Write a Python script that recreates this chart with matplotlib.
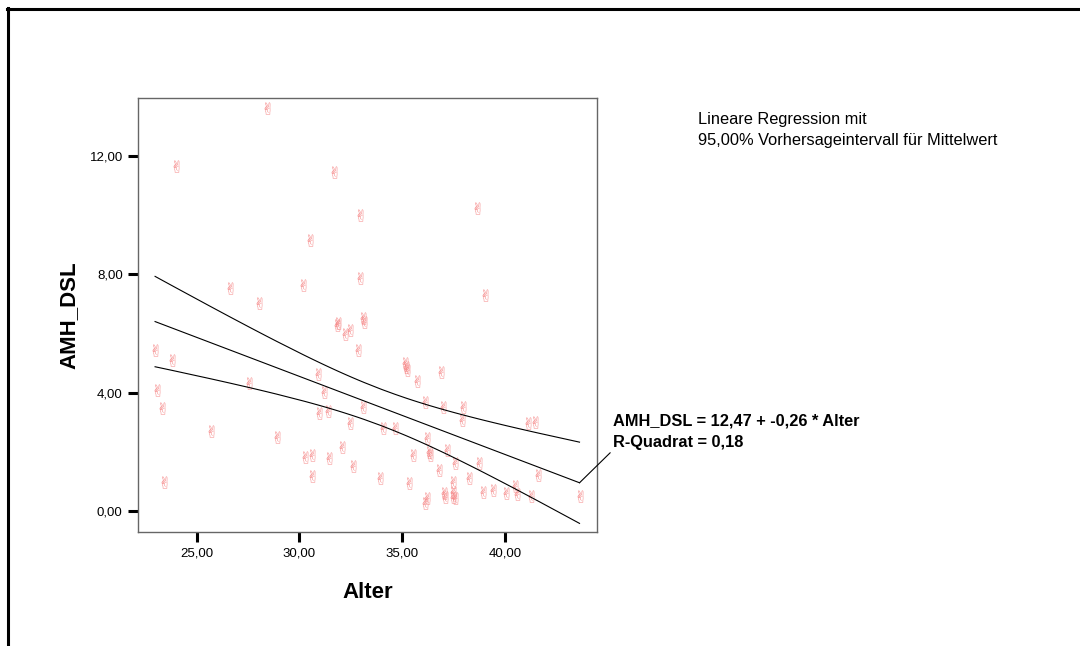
import numpy as np
import matplotlib.pyplot as plt
from matplotlib.lines import Line2D

plt.rcParams['font.family'] = ['Liberation Sans', 'DejaVu Sans']

# Alter (x) and AMH_DSL (y)
alter = [28.41, 24.00, 31.68, 32.95, 30.52, 30.19, 32.95, 26.62, 28.04, 31.86,
         38.62, 39.03, 33.11, 33.16, 31.84, 32.22, 32.46, 32.84, 22.98, 23.79,
         27.56, 30.89, 31.21, 23.06, 23.30, 30.97, 31.38, 32.46, 25.70, 28.90,
         32.06, 30.27, 30.60, 31.46, 32.59, 30.60, 23.43, 35.14, 35.19, 35.25,
         36.89, 35.74, 33.08, 36.11, 36.97, 37.97, 37.89, 41.13, 41.46, 34.08,
         34.65, 36.19, 35.51, 36.31, 36.35, 37.19, 37.57, 38.75, 36.80, 38.26,
         33.92, 35.34, 41.62, 37.45, 37.03, 37.08, 37.45, 37.48, 37.57, 38.91,
         39.43, 40.05, 40.49, 40.60, 41.25, 43.62, 36.19, 36.11]
amh_dsl = [13.61, 11.66, 11.45, 10.00, 9.16, 7.64, 7.87, 7.53, 7.02, 6.35,
           10.23, 7.30, 6.51, 6.40, 6.29, 5.98, 6.12, 5.44, 5.44, 5.10,
           4.34, 4.63, 4.03, 4.09, 3.47, 3.32, 3.39, 2.96, 2.72, 2.51,
           2.17, 1.84, 1.89, 1.80, 1.53, 1.19, 0.99, 4.99, 4.88, 4.77,
           4.71, 4.41, 3.51, 3.70, 3.53, 3.53, 3.08, 2.96, 3.01, 2.80,
           2.80, 2.46, 1.89, 2.00, 1.89, 2.06, 1.61, 1.61, 1.39, 1.11,
           1.13, 0.94, 1.22, 0.99, 0.60, 0.48, 0.65, 0.48, 0.43, 0.65,
           0.71, 0.62, 0.86, 0.57, 0.52, 0.52, 0.43, 0.28]

# fitted line as drawn in the chart (label: 12,47 + -0,26 * Alter)
fit_intercept = 12.47
fit_slope = -0.264

x_ticks = [25, 30, 35, 40]
y_ticks = [0, 4, 8, 12]

x = np.array(alter)
y = np.array(amh_dsl)

# 95% confidence band for the mean around the fitted line
n = len(x)
b, a = np.polyfit(x, y, 1)
s = np.sqrt(np.sum((y - (a + b * x)) ** 2) / (n - 2))
sxx = np.sum((x - x.mean()) ** 2)
xs = np.unique(x)
fit = fit_intercept + fit_slope * xs
half = 1.99 * s * np.sqrt(1.0 / n + (xs - x.mean()) ** 2 / sxx)

fig = plt.figure(figsize=(10.8, 6.46), dpi=100)
ax = fig.add_axes([138 / 1080, 1 - 532 / 646, 459 / 1080, 434 / 646])

ax.scatter(x, y, marker='$\u270C$', s=75, color='#f58282', linewidths=0, zorder=2)
ax.plot(xs, fit, color='black', lw=0.8, zorder=3)
ax.plot(xs, fit + half, color='black', lw=0.8, zorder=3)
ax.plot(xs, fit - half, color='black', lw=0.8, zorder=3)

ax.set_xlim(22.15, 44.47)
ax.set_ylim(-0.71, 13.96)
ax.set_xticks(x_ticks)
ax.set_yticks(y_ticks)
ax.set_xticklabels([f'{t:.2f}'.replace('.', ',') for t in x_ticks], fontsize=9.5)
ax.set_yticklabels([f'{t:.2f}'.replace('.', ',') for t in y_ticks], fontsize=9.5)
ax.tick_params(direction='out', length=7, width=2.2, color='black', pad=4)
for sp in ax.spines.values():
    sp.set_color('#666666')
    sp.set_linewidth(1)

ax.set_xlabel('Alter', fontsize=16, fontweight='bold', labelpad=16)
ax.set_ylabel('AMH_DSL', fontsize=16, fontweight='bold', labelpad=7)

# legend-like note and equation label (baseline = last line)
fig.text(698 / 1080, 1 - 145 / 646, 'Lineare Regression mit\n95,00% Vorhersageintervall für Mittelwert',
         fontsize=11.8, va='baseline', ha='left', linespacing=1.5)
ax.annotate('AMH_DSL = 12,47 + -0,26 * Alter\nR-Quadrat = 0,18',
            xy=(xs[-1], fit[-1]), xycoords='data',
            xytext=(613 / 1080, 1 - 447 / 646), textcoords='figure fraction',
            fontsize=11.8, fontweight='bold', ha='left', va='baseline', linespacing=1.5,
            arrowprops=dict(arrowstyle='-', lw=0.8, color='black', shrinkA=0, shrinkB=0,
                            relpos=(0, 0)))

# outer frame (top and left)
fig.add_artist(Line2D([7 / 1080, 1078 / 1080], [1 - 9 / 646, 1 - 9 / 646], color='black', lw=2.2))
fig.add_artist(Line2D([8 / 1080, 8 / 1080], [1 - 8 / 646, 0], color='black', lw=2.2))

fig.savefig('out.png', dpi=100)
